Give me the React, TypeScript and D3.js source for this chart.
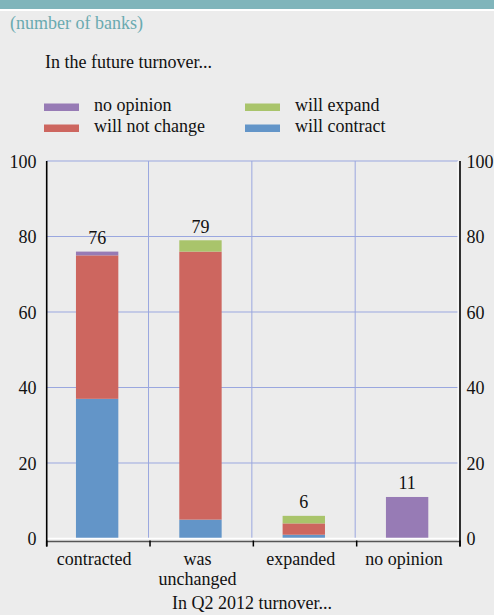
import React from "react";
import * as d3 from "d3";

// Survey results: number of banks by Q2 2012 turnover change and future expectation
const categories = ["contracted", "was unchanged", "expanded", "no opinion"];
const categoryLines = [["contracted"], ["was", "unchanged"], ["expanded"], ["no opinion"]];
const seriesNames = ["will contract", "will not change", "will expand", "no opinion"];
const willContract = [37, 5, 1, 0];
const willNotChange = [38, 71, 3, 0];
const willExpand = [0, 3, 2, 0];
const noOpinion = [1, 0, 0, 11];
const yTicks = [0, 20, 40, 60, 80, 100];
const legendOrder = ["no opinion", "will not change", "will expand", "will contract"];

const colors: Record<string, string> = {
  "will contract": "#6395c8",
  "will not change": "#cd665f",
  "will expand": "#a9c46b",
  "no opinion": "#977bb5",
};

const FONT = "'Liberation Serif', 'Times New Roman', serif";
const W = 494;
const H = 615;
const margin = { left: 46.7, right: 34, top: 161, bottom: 76.5 };

export default function App() {
  const rows = categories.map((c, i) => ({
    category: c,
    "will contract": willContract[i],
    "will not change": willNotChange[i],
    "will expand": willExpand[i],
    "no opinion": noOpinion[i],
  }));
  const stacked = d3.stack<any>().keys(seriesNames)(rows);
  const totals = rows.map((r) => seriesNames.reduce((s, k) => s + (r as any)[k], 0));

  const x = d3
    .scaleBand<string>()
    .domain(categories)
    .range([margin.left, W - margin.right])
    .paddingInner(0.59)
    .paddingOuter(0.295)
    .align(0.48);
  const y = d3.scaleLinear().domain([0, 100]).range([H - margin.bottom, margin.top]);

  const x0 = margin.left;
  const x1 = W - margin.right;
  const y0 = y(0);
  const step = x.step();
  const boundaries = d3.range(categories.length + 1).map((i) => x0 + i * step);
  const gridColor = "#9aa7df";

  return (
    <svg
      width={W}
      height={H}
      style={{ position: "absolute", left: 0, top: 0, fontFamily: FONT }}
    >
      <rect x={0} y={0} width={W} height={H} fill="#ececec" />
      <rect x={0} y={0} width={W} height={9} fill="#80b5bb" />
      <rect x={0} y={9} width={W} height={2} fill="#ffffff" />
      <text x={10} y={29} fontSize={18} fill="#6aaab0">
        (number of banks)
      </text>
      <text x={45} y={68} fontSize={18} fill="#111">
        In the future turnover...
      </text>

      {/* legend */}
      {legendOrder.map((name, i) => {
        const col = Math.floor(i / 2);
        const row = i % 2;
        const lx = 44 + col * 201;
        const ly = 103.5 + row * 21;
        return (
          <g key={name}>
            <rect x={lx} y={ly} width={35} height={7.5} fill={colors[name]} />
            <text x={lx + 50} y={ly + 7.5} fontSize={18} fill="#111">
              {name}
            </text>
          </g>
        );
      })}

      {/* grid */}
      {yTicks.slice(1).map((t) => (
        <line key={t} x1={x0} x2={x1 - 2} y1={y(t)} y2={y(t)} stroke={gridColor} strokeWidth={1} />
      ))}
      {boundaries.slice(1, -1).map((b, i) => (
        <line key={i} x1={b - 1.5} x2={b - 1.5} y1={y(100)} y2={y0} stroke={gridColor} strokeWidth={1} />
      ))}

      {/* bars */}
      {stacked.map((layer) => (
        <g key={layer.key} fill={colors[layer.key]}>
          {layer.map((d, i) =>
            d[1] - d[0] > 0 ? (
              <rect
                key={i}
                x={x(categories[i])}
                width={x.bandwidth()}
                y={y(d[1])}
                height={y(d[0]) - y(d[1])}
              />
            ) : null
          )}
        </g>
      ))}

      {/* totals */}
      {totals.map((t, i) => (
        <text
          key={i}
          x={(x(categories[i]) as number) + x.bandwidth() / 2}
          y={y(t) - 7.5}
          fontSize={18}
          textAnchor="middle"
          fill="#111"
        >
          {t}
        </text>
      ))}

      {/* axes */}
      <line x1={x0 + 1} x2={x1 - 2} y1={y0} y2={y0} stroke="#ffffff" strokeWidth={1.5} />
      <line x1={x0} x2={x1} y1={y0 + 3} y2={y0 + 3} stroke="#555" strokeWidth={1.5} />
      {boundaries.map((b, i) => (
        <line key={i} x1={b} x2={b} y1={y0 + 2} y2={y0 + 8} stroke="#000" strokeWidth={1.5} />
      ))}
      <line x1={x0} x2={x0} y1={y(100)} y2={y0 + 8} stroke="#000" strokeWidth={1.6} />
      <line x1={x1 - 2} x2={x1 - 2} y1={y(100)} y2={y0 + 2} stroke="#ffffff" strokeWidth={1} />
      <line x1={x1} x2={x1} y1={y(100)} y2={y0 + 8} stroke="#000" strokeWidth={1.6} />

      {yTicks.map((t) => (
        <g key={t}>
          <text x={36.5} y={y(t) + 6.5} fontSize={18} textAnchor="end" fill="#111">
            {t}
          </text>
          <text x={466.5} y={y(t) + 6.5} fontSize={18} fill="#111">
            {t}
          </text>
        </g>
      ))}

      {categoryLines.map((lines, i) => (
        <text
          key={i}
          x={(x(categories[i]) as number) + x.bandwidth() / 2 - 3}
          y={565}
          fontSize={18}
          textAnchor="middle"
          fill="#111"
        >
          {lines.map((l, j) => (
            <tspan key={j} x={(x(categories[i]) as number) + x.bandwidth() / 2 - 3} dy={j === 0 ? 0 : 20}>
              {l}
            </tspan>
          ))}
        </text>
      ))}

      <text x={252} y={609} fontSize={18} textAnchor="middle" fill="#111">
        In Q2 2012 turnover...
      </text>
    </svg>
  );
}
